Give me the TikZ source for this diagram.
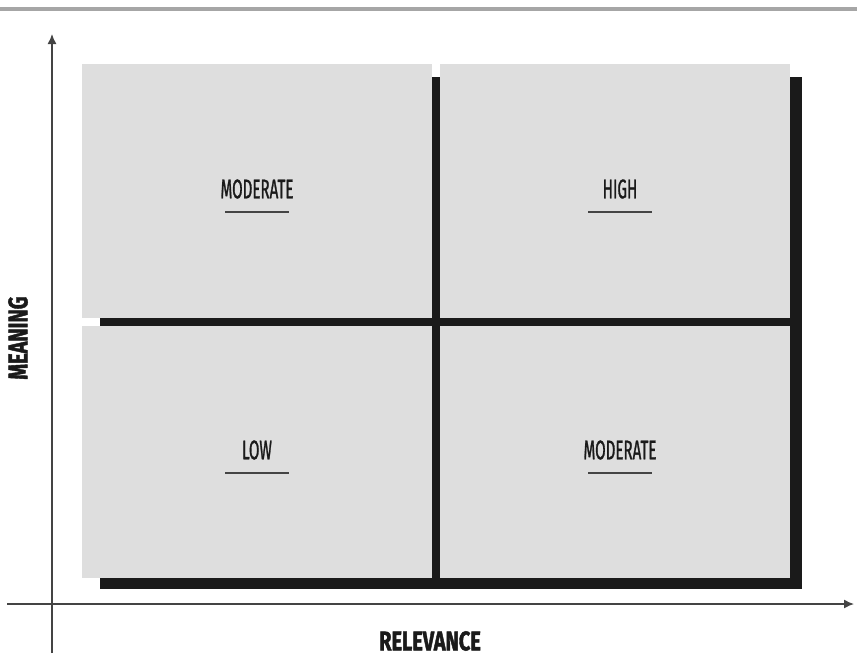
\documentclass[tikz,border=0pt]{standalone}
\usepackage{fontspec}
\setmainfont{Fira Sans}
\newfontfamily\labelfont[FakeStretch=0.56, FakeBold=1]{Fira Sans}
\newfontfamily\axisfont[FakeStretch=0.74, FakeBold=1.5]{Fira Sans}
\usetikzlibrary{arrows.meta}
\definecolor{quadgray}{HTML}{DEDEDE}
\definecolor{barblack}{HTML}{1A1A1A}
\definecolor{rulegray}{HTML}{A6A6A6}
\definecolor{axisgray}{HTML}{444444}
\tikzset{
	quad/.style={fill=quadgray},
	axis/.style={draw=axisgray, line width=1.4pt, -{Latex[length=10pt,width=9pt]}},
	level/.style={font=\labelfont\fontsize{27}{27}\selectfont, text=barblack, inner sep=0pt},
	axislabel/.style={font=\axisfont\bfseries\fontsize{27}{27}\selectfont, text=barblack, inner sep=0pt},
	uline/.style={draw=axisgray, line width=1.2pt}
}
\begin{document}
\begin{tikzpicture}[x=1pt, y=-1pt]
	\useasboundingbox (0,0) rectangle (857,656);
	\fill[rulegray] (0,7) rectangle (857,11);
	% shadow behind the grid
	\fill[barblack] (100,77) rectangle (802,589);
	% quadrants
	\fill[quad] (82,64)  rectangle (432,318);
	\fill[quad] (440,64) rectangle (790,318);
	\fill[quad] (82,326) rectangle (432,578);
	\fill[quad] (440,326) rectangle (790,578);
	% axes
	\coordinate (ybot) at (52,653);
	\coordinate (ytop) at (52,34);
	\coordinate (xleft) at (7,604);
	\coordinate (xright) at (854,604);
	\draw[axis] (ybot) -- (ytop);
	\draw[axis] (xleft) -- (xright);
	\node[axislabel]           (relevance) at (430,641) {RELEVANCE};
	\node[axislabel, rotate=90] (meaning)  at (18,338)  {MEANING};
	% levels
	\node[level] (tl) at (257,189) {MODERATE};
	\node[level] (tr) at (620,189) {HIGH};
	\node[level] (bl) at (257,450) {LOW};
	\node[level] (br) at (620,450) {MODERATE};
	\draw[uline] (tl) ++(-32,23) -- ++(64,0);
	\draw[uline] (tr) ++(-32,23) -- ++(64,0);
	\draw[uline] (bl) ++(-32,23) -- ++(64,0);
	\draw[uline] (br) ++(-32,23) -- ++(64,0);
\end{tikzpicture}
\end{document}
